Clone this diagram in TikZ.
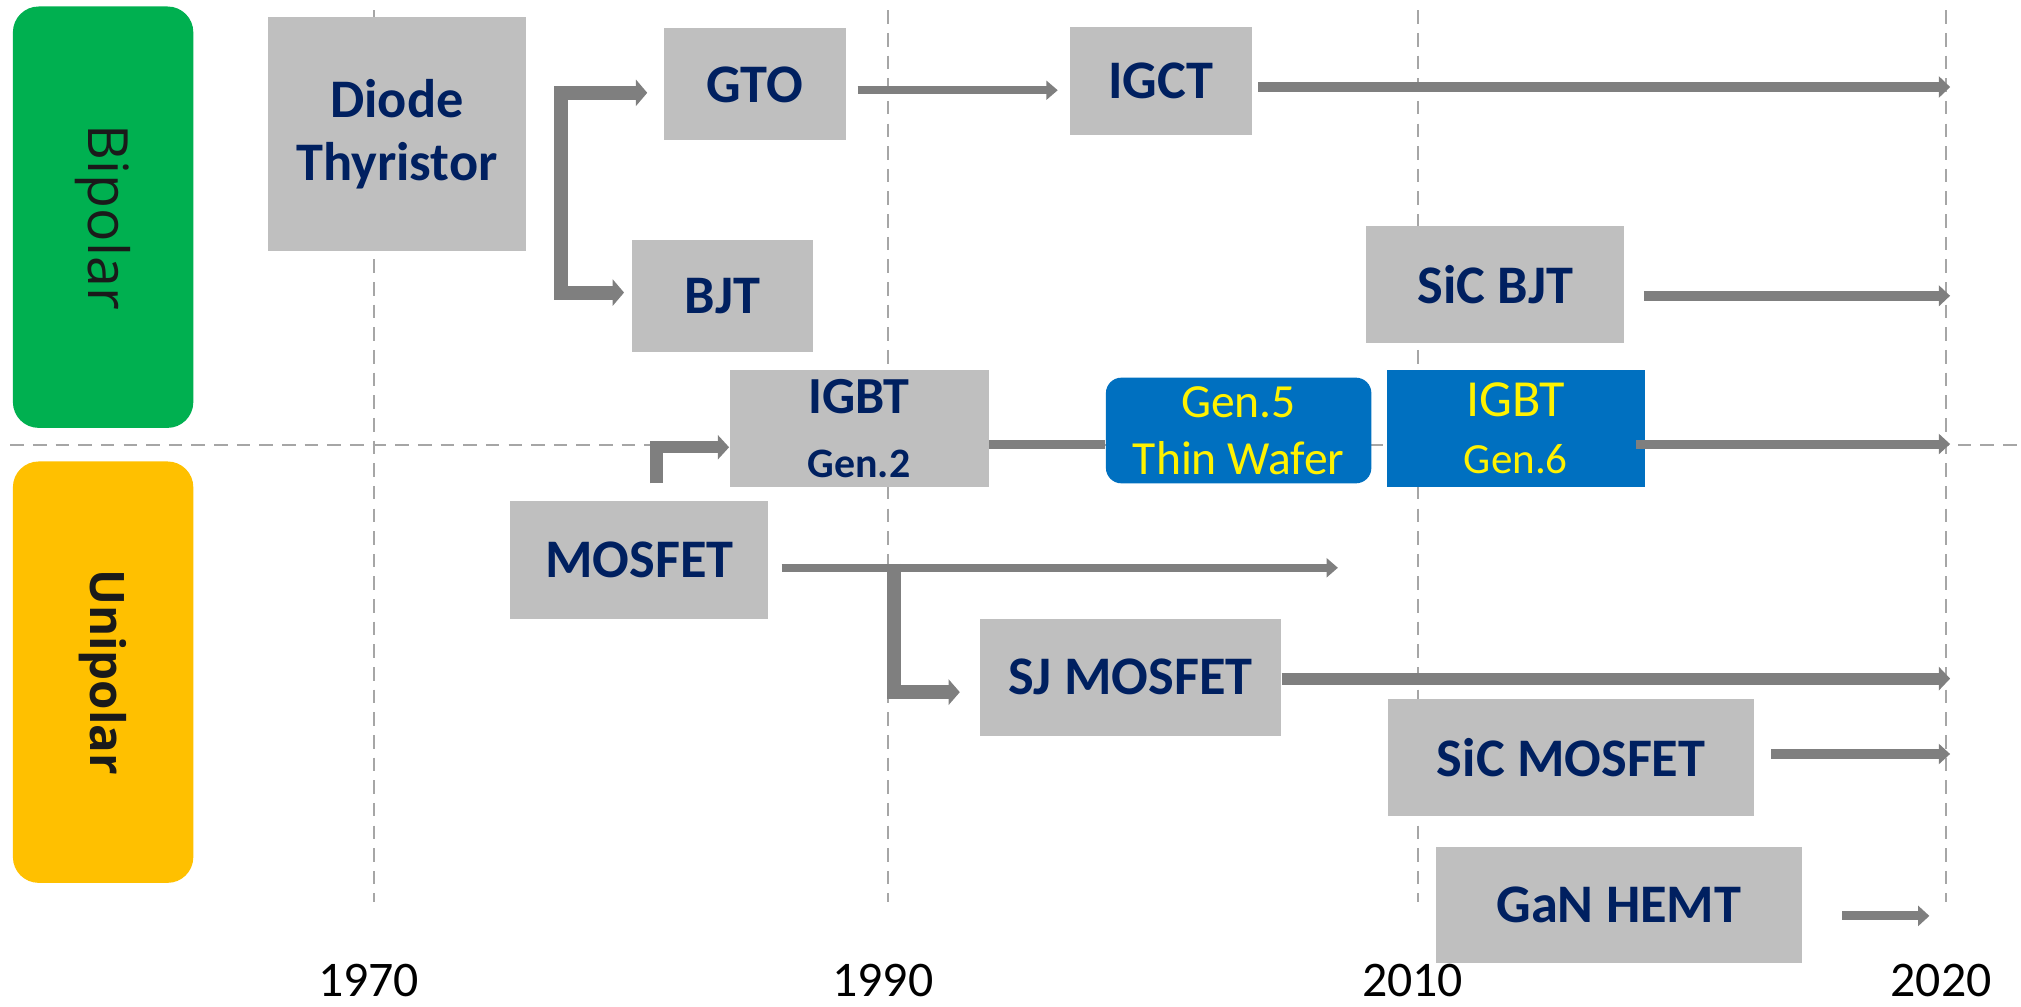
\documentclass[tikz,border=0pt]{standalone}
\usepackage{fontspec}
\setmainfont{Carlito}
\newfontfamily\sidefont{Open Sans}
\usetikzlibrary{arrows.meta,calc,positioning}
\definecolor{boxgray}{HTML}{BFBFBF}
\definecolor{arrowgray}{HTML}{7F7F7F}
\definecolor{linegray}{HTML}{A6A6A6}
\definecolor{navy}{HTML}{002060}
\definecolor{igbtblue}{HTML}{0070C0}
\definecolor{bipgreen}{HTML}{00B050}
\definecolor{unigold}{HTML}{FFC000}
\definecolor{sidetext}{HTML}{1A1A1A}
\begin{document}
\begin{tikzpicture}
    [
        x = 0.02cm, y = -0.02cm,
        >={Triangle[length=5pt, width=4pt 1.2]},
        every node/.style = {align=center, inner sep=0pt},
        device/.style = {fill=boxgray, text=navy,
            font=\fontsize{24}{28}\selectfont\bfseries},
        newgen/.style = {fill=igbtblue, text=yellow,
            font=\fontsize{21}{25}\selectfont},
        family/.style = {rounded corners=0.4cm, text=sidetext, rotate=-90,
            minimum width=6.54cm, minimum height=2.8cm},
        flow/.style = {draw=arrowgray, line width=4.4pt, ->},
        grid/.style = {draw=linegray, line width=0.8pt,
            dash pattern=on 6pt off 4pt},
        year/.style = {font=\fontsize{22}{24}\selectfont}
    ]
    \useasboundingbox (0,0) rectangle (1568,781);

    % time grid
    \draw[grid] (8,345) -- (1568,345);
    \foreach \xpos/\yr in {290/1970, 689/1990, 1100/2010, 1510/2020} {
        \draw[grid] (\xpos,8) -- (\xpos,700);
        \node[year] (y\yr) at (\xpos-4,761) {\yr};
    }
    \coordinate (end) at (1513,0);

    % families
    \node[family, fill=bipgreen, font=\sidefont\fontsize{24.5}{27}\selectfont]
        (bipolar) at (80,168.5) {Bipolar};
    \node[family, fill=unigold, font=\sidefont\fontsize{21}{26}\selectfont\bfseries]
        (unipolar) at (80,521.5) {Unipolar};

    % devices
    \node[device, minimum width=4cm, minimum height=3.62cm]
        (diode) at (308,104) {Diode\\Thyristor};
    \node[device, minimum width=2.82cm, minimum height=1.74cm]
        (gto) at (585.5,65.5) {GTO};
    \node[device, minimum width=2.82cm, minimum height=1.68cm]
        (igct) at (900.5,63) {IGCT};
    \node[device, minimum width=2.82cm, minimum height=1.74cm]
        (bjt) at (560.5,229.5) {BJT};
    \node[device, minimum width=4cm, minimum height=1.82cm]
        (sicbjt) at (1160,220.5) {SiC BJT};
    \node[device, minimum width=4.02cm, minimum height=1.82cm]
        (igbt2) at (666.5,332.5)
        {\fontsize{23}{25.5}\selectfont IGBT\\\fontsize{18.5}{25.5}\selectfont Gen.2};
    \node[newgen, rounded corners=0.24cm, minimum width=4.12cm, minimum height=1.64cm]
        (gen5) at (961,334) {Gen.5\\Thin Wafer};
    \node[newgen, minimum width=4cm, minimum height=1.82cm]
        (igbt6) at (1176,332.5)
        {\fontsize{23}{25}\selectfont IGBT\\\fontsize{19}{25}\selectfont Gen.6};
    \node[device, minimum width=4cm, minimum height=1.82cm]
        (mosfet) at (496,434.5) {MOSFET};
    \node[device, minimum width=4.68cm, minimum height=1.82cm]
        (sjmos) at (877,525.5) {SJ MOSFET};
    \node[device, minimum width=5.68cm, minimum height=1.82cm]
        (sicmos) at (1219,587.5) {SiC MOSFET};
    \node[device, minimum width=5.68cm, minimum height=1.8cm]
        (gan) at (1256,702) {GaN HEMT};

    % bipolar branches
    \coordinate (fork) at (435,150);
    \draw[flow, line width=6.2pt, <->]
        ($(gto.west)+(-12.5,6.5)$) -| (fork) |- ($(bjt.west)+(-5.5,-2.5)$);
    \draw[flow, line width=3.5pt] ($(gto.east)+(9,4.5)$) -- ($(igct.west |- gto.east)+(-9,4.5)$);
    \draw[flow] ($(igct.east)+(5,4.5)$) -- ($(igct.east -| end)+(0,4.5)$);
    \draw[flow, line width=4.2pt] ($(sicbjt.east)+(15,9)$) -- ($(sicbjt.east -| end)+(0,9)$);

    % IGBT line
    \coordinate (igbtsrc) at (509.5,375);
    \draw[flow, line width=5.5pt] (igbtsrc) |- ($(igbt2.west)+(0,14.5)$);
    \draw[draw=arrowgray, line width=4pt] ($(igbt2.east)+(0,12)$) -- ($(gen5.west)+(0,10.5)$);
    \draw[flow, line width=4pt] ($(igbt6.east)+(-7,12)$) -- ($(igbt6.east -| end)+(0,12)$);

    % unipolar branches
    \coordinate (mosend) at (1038,440.5);
    \draw[flow, line width=3.6pt] ($(mosfet.east)+(10,6)$) -- (mosend);
    \draw[flow, line width=6pt] (693.5,437.5) |- ($(sjmos.west)+(-15,11.5)$);
    \draw[flow, line width=5.2pt] ($(sjmos.east)+(0,1)$) -- ($(sjmos.east -| end)+(0,1)$);
    \draw[flow, line width=4pt] ($(sicmos.east)+(13,-2.5)$) -- ($(sicmos.east -| end)+(0,-2.5)$);
    \draw[flow, line width=4pt] ($(gan.east)+(31,8.6)$) -- ($(gan.east)+(98.6,8.6)$);
\end{tikzpicture}
\end{document}
